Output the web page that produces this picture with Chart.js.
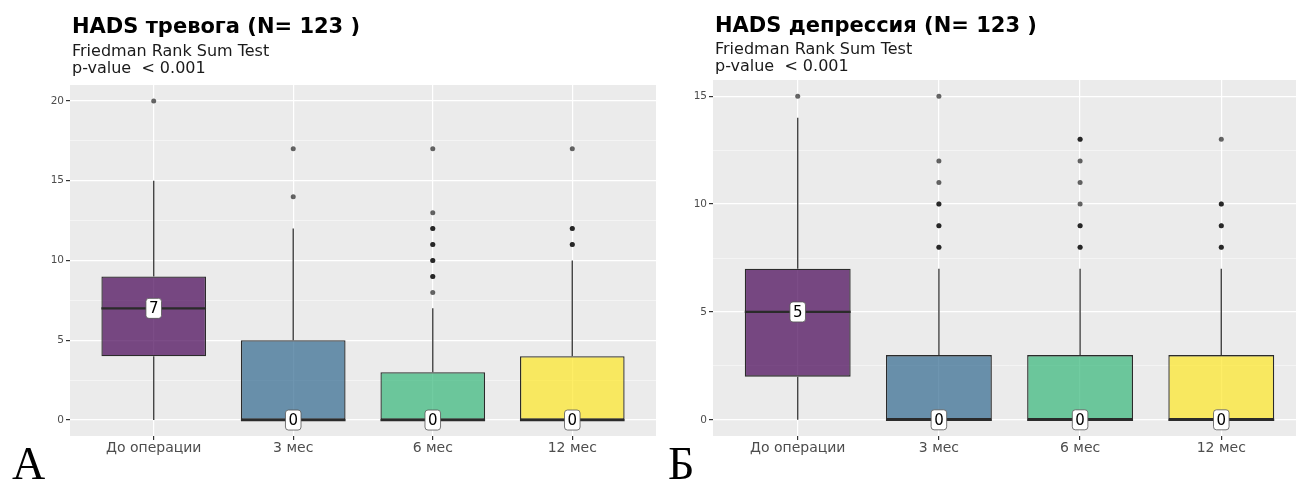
<!DOCTYPE html>
<html>
<head>
<meta charset="utf-8">
<script src="https://cdn.jsdelivr.net/npm/chart.js@4"></script>
<style>
  html, body { margin:0; padding:0; background:#fff; width:1296px; height:482px; overflow:hidden; position:relative; font-family:"DejaVu Sans", sans-serif; }
  canvas { position:absolute; top:0; }
  .title { position:absolute; font-weight:bold; font-size:21px; color:#000; white-space:pre; line-height:22px; z-index:2; }
  .sub { position:absolute; font-size:16px; color:#1a1a1a; white-space:pre; line-height:17px; z-index:2; }
  .letter { position:absolute; font-family:"Liberation Serif", "DejaVu Serif", serif; font-size:46px; color:#000; line-height:46px; z-index:2; }
</style>
</head>
<body>
<div class="title" style="left:72px; top:15px;">HADS тревога (N= 123 )</div>
<div class="sub" style="left:72px; top:42px;">Friedman Rank Sum Test<br>p-value  &lt; 0.001</div>
<div class="title" style="left:715px; top:14px;">HADS депрессия (N= 123 )</div>
<div class="sub" style="left:715px; top:40px;">Friedman Rank Sum Test<br>p-value  &lt; 0.001</div>
<div class="letter" style="left:12px; top:441px;">А</div>
<div class="letter" style="left:668px; top:441px;">Б</div>
<canvas id="c1" width="660" height="482" style="left:0px;"></canvas>
<canvas id="c2" width="660" height="482" style="left:660px;"></canvas>
<script>
// ---- data ----
const categories = ['До операции', '3 мес', '6 мес', '12 мес'];

const anxMin = [0, 0, 0, 0];
const anxQ1 = [4, 0, 0, 0];
const anxMedian = [7, 0, 0, 0];
const anxQ3 = [9, 5, 3, 4];
const anxMax = [15, 12, 7, 10];
const anxOutliers = [[20], [17, 14], [17, 13, 12, 12, 11, 11, 10, 10, 9, 9, 8], [17, 12, 12, 11, 11]];
const anxTicks = [0, 5, 10, 15, 20];

const depMin = [0, 0, 0, 0];
const depQ1 = [2, 0, 0, 0];
const depMedian = [5, 0, 0, 0];
const depQ3 = [7, 3, 3, 3];
const depMax = [14, 7, 7, 7];
const depOutliers = [[15], [15, 12, 11, 10, 10, 9, 9, 8, 8], [13, 13, 12, 11, 10, 9, 9, 8, 8], [13, 10, 10, 9, 9, 8, 8]];
const depTicks = [0, 5, 10, 15];

const boxColors = ['rgba(68,1,84,0.7)', 'rgba(49,104,142,0.7)', 'rgba(53,183,121,0.7)', 'rgba(253,231,37,0.7)'];

// ---- helpers ----
const panelBg = {
  id: 'panelBg',
  beforeDraw(chart) {
    const { ctx, chartArea: a } = chart;
    ctx.save();
    ctx.fillStyle = '#ebebeb';
    ctx.fillRect(a.left, a.top, a.right - a.left, a.bottom - a.top);
    ctx.restore();
  }
};

function boxPlugin(mins, q1, med, q3, maxs) {
  return {
    id: 'boxExtras',
    beforeDatasetsDraw(chart) {
      const { ctx, scales: { x, y } } = chart;
      ctx.save();
      ctx.strokeStyle = '#444444';
      ctx.lineWidth = 1.4;
      categories.forEach((c, i) => {
        const px = x.getPixelForValue(i);
        ctx.beginPath();
        ctx.moveTo(px, y.getPixelForValue(maxs[i]));
        ctx.lineTo(px, y.getPixelForValue(q3[i]));
        ctx.moveTo(px, y.getPixelForValue(q1[i]));
        ctx.lineTo(px, y.getPixelForValue(mins[i]));
        ctx.stroke();
      });
      ctx.restore();
    },
    afterDatasetsDraw(chart) {
      const { ctx, scales: { x, y } } = chart;
      const meta = chart.getDatasetMeta(0);
      ctx.save();
      categories.forEach((c, i) => {
        const bar = meta.data[i];
        const half = bar.width / 2;
        const px = x.getPixelForValue(i);
        const py = y.getPixelForValue(med[i]);
        ctx.strokeStyle = '#2b2b2b';
        ctx.lineWidth = 2.2;
        ctx.beginPath();
        ctx.moveTo(px - half, py);
        ctx.lineTo(px + half, py);
        ctx.stroke();
      });
      ctx.font = '15px "DejaVu Sans", sans-serif';
      ctx.textAlign = 'center';
      ctx.textBaseline = 'middle';
      categories.forEach((c, i) => {
        const px = x.getPixelForValue(i);
        const py = y.getPixelForValue(med[i]);
        const txt = String(med[i]);
        const w = ctx.measureText(txt).width + 6;
        const h = 20;
        ctx.fillStyle = '#ffffff';
        ctx.strokeStyle = '#555';
        ctx.lineWidth = 0.8;
        ctx.beginPath();
        ctx.roundRect(px - w / 2, py - h / 2, w, h, 3);
        ctx.fill();
        ctx.stroke();
        ctx.fillStyle = '#000';
        ctx.fillText(txt, px, py + 1);
      });
      ctx.restore();
    }
  };
}

function makeChart(id, mins, q1, med, q3, maxs, outliers, ticks, yMin, yMax, yWidth, pad) {
  const step = ticks[1] - ticks[0];
  const allTicks = [];
  for (let i = 0; i < ticks.length; i++) {
    allTicks.push({ value: ticks[i], major: true });
    if (i < ticks.length - 1) allTicks.push({ value: ticks[i] + step / 2, major: false });
  }
  const outPts = [];
  outliers.forEach((arr, i) => arr.forEach(v => outPts.push({ x: i, y: v })));
  return new Chart(document.getElementById(id), {
    data: {
      datasets: [
        {
          type: 'bar',
          data: categories.map((c, i) => ({ x: i, y: [q1[i], q3[i]] })),
          backgroundColor: boxColors,
          borderColor: '#2b2b2b',
          borderWidth: 1.3,
          borderSkipped: false,
          categoryPercentage: 0.75,
          barPercentage: 1.0,
          order: 2
        },
        {
          type: 'scatter',
          data: outPts,
          backgroundColor: 'rgba(0,0,0,0.6)',
          borderWidth: 0,
          pointRadius: 2.5,
          order: 1
        }
      ]
    },
    options: {
      responsive: false,
      animation: false,
      devicePixelRatio: 1,
      layout: { padding: pad },
      plugins: { legend: { display: false }, tooltip: { enabled: false } },
      scales: {
        x: {
          type: 'linear',
          min: -0.6,
          max: 3.6,
          offset: false,
          afterBuildTicks(s) { s.ticks = categories.map((c, i) => ({ value: i })); },
          afterFit(s) { s.height = 46; },
          ticks: {
            callback: v => categories[v],
            color: '#4d4d4d',
            font: { family: 'DejaVu Sans', size: 14 },
            padding: 0,
            maxRotation: 0,
            autoSkip: false
          },
          grid: { offset: false, color: '#ffffff', lineWidth: 1.2, tickLength: 4, tickColor: '#333' },
          border: { display: false }
        },
        y: {
          type: 'linear',
          min: yMin,
          max: yMax,
          afterBuildTicks(s) { s.ticks = allTicks.map(t => ({ value: t.value, major: t.major })); },
          afterFit(s) { s.width = yWidth; },
          ticks: {
            callback: (v) => (ticks.includes(v) ? String(v) : ''),
            color: '#4d4d4d',
            font: { family: 'DejaVu Sans', size: 10.5 },
            padding: 2,
            autoSkip: false
          },
          grid: {
            color: ctx => ticks.includes(ctx.tick.value) ? '#ffffff' : 'rgba(255,255,255,0.75)',
            lineWidth: ctx => ticks.includes(ctx.tick.value) ? 1.2 : 0.6,
            tickLength: 4,
            tickColor: ctx => ticks.includes(ctx.tick.value) ? '#333' : 'rgba(0,0,0,0)'
          },
          border: { display: false }
        }
      }
    },
    plugins: [panelBg, boxPlugin(mins, q1, med, q3, maxs)]
  });
}

makeChart('c1', anxMin, anxQ1, anxMedian, anxQ3, anxMax, anxOutliers, anxTicks, -1, 21, 70, { top: 85, right: 3, left: 0, bottom: 0 });
makeChart('c2', depMin, depQ1, depMedian, depQ3, depMax, depOutliers, depTicks, -0.75, 15.75, 53, { top: 80, right: 14, left: 0, bottom: 0 });
</script>
</body>
</html>
